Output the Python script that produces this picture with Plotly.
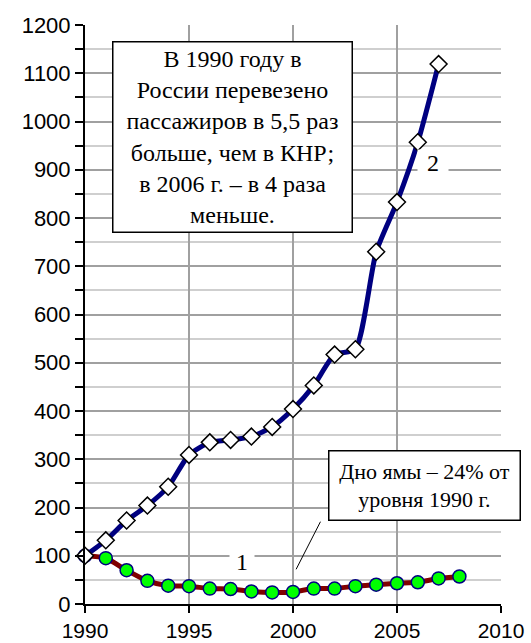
import plotly.graph_objects as go

years_china = list(range(1990, 2008))
china = [100, 132, 173, 204, 243, 309, 335, 340, 347, 367, 404, 453, 517, 528,
         730, 833, 957, 1119]

years_russia = list(range(1990, 2009))
russia = [100, 95, 70, 48, 38, 37, 32, 31, 26, 24, 25, 32, 32, 37, 40, 43, 45,
          53, 57]

x_ticks = [1990, 1995, 2000, 2005, 2010]
y_ticks = list(range(0, 1201, 100))

note_main = ("В 1990 году в<br>России перевезено<br>пассажиров в 5,5 раз<br>"
             "больше, чем в КНР;<br>в 2006 г. – в 4 раза<br>меньше.")
note_bottom = "Дно ямы – 24% от<br>уровня 1990 г."

SERIF = "Liberation Serif, Times New Roman, serif"
SANS = "Liberation Sans, Arial, sans-serif"

fig = go.Figure()
fig.add_trace(go.Scatter(
    x=years_russia, y=russia, mode="lines+markers",
    line=dict(color="#800000", width=5, shape="spline", smoothing=0.6),
    marker=dict(symbol="circle", size=13, color="#00ff00",
                line=dict(color="#000080", width=1.5)),
    showlegend=False, cliponaxis=False))
fig.add_trace(go.Scatter(
    x=years_china, y=china, mode="lines+markers",
    line=dict(color="#000080", width=5, shape="spline", smoothing=0.6),
    marker=dict(symbol="diamond", size=13, color="white",
                line=dict(color="black", width=1.5)),
    showlegend=False, cliponaxis=False))

# leader line for bottom note
fig.add_shape(type="line", xref="x", yref="y", x0=2001.32, y0=170.6,
              x1=2000.15, y1=71.9, line=dict(color="black", width=1))

fig.add_annotation(x=1997.09, y=967, xref="x", yref="y", text=note_main,
                   showarrow=False, font=dict(family=SERIF, size=24, color="black"),
                   bgcolor="white", bordercolor="black", borderwidth=1.5,
                   borderpad=0, width=238, height=189, align="center")
fig.add_annotation(x=2006.33, y=245.6, xref="x", yref="y", text=note_bottom,
                   showarrow=False, font=dict(family=SERIF, size=22, color="black"),
                   bgcolor="white", bordercolor="black", borderwidth=1.5,
                   borderpad=0, width=190, height=68, align="center")
fig.add_annotation(x=1997.57, y=87, xref="x", yref="y", text="1",
                   showarrow=False, font=dict(family=SERIF, size=24, color="black"),
                   bgcolor="white", borderpad=0, width=24, height=26)
fig.add_annotation(x=2006.72, y=914, xref="x", yref="y", text="2",
                   showarrow=False, font=dict(family=SERIF, size=24, color="black"),
                   bgcolor="white", borderpad=0, width=30, height=26)

fig.update_xaxes(range=[1990, 2010], tickvals=x_ticks, ticktext=[str(v) for v in x_ticks],
                 showgrid=True, gridcolor="#a0a0a0", gridwidth=1.5,
                 showline=True, linecolor="black", linewidth=2,
                 ticks="outside", ticklen=7, tickwidth=2, tickcolor="black",
                 tickfont=dict(family=SANS, size=21, color="black"),
                 zeroline=False, fixedrange=True, automargin=False)
fig.update_yaxes(range=[0, 1200], tickvals=y_ticks, ticktext=[str(v) for v in y_ticks],
                 showgrid=True, gridcolor="#a0a0a0", gridwidth=1.5,
                 showline=True, linecolor="black", linewidth=2,
                 ticks="outside", ticklen=8, tickwidth=2, tickcolor="black",
                 tickfont=dict(family=SANS, size=22, color="black"),
                 minor=dict(dtick=50, tick0=0, showgrid=True, gridcolor="#cfcfcf",
                            gridwidth=1.5, ticks="outside", ticklen=8,
                            tickwidth=2, tickcolor="black"),
                 zeroline=False, fixedrange=True, automargin=False)

fig.update_layout(width=531, height=643, margin=dict(l=85, r=30, t=25, b=39),
                  plot_bgcolor="white", paper_bgcolor="white")

fig.write_html("out.html", config={"displayModeBar": False},
               post_script="document.body.style.margin='0';"
                           "document.body.style.overflow='hidden';")
